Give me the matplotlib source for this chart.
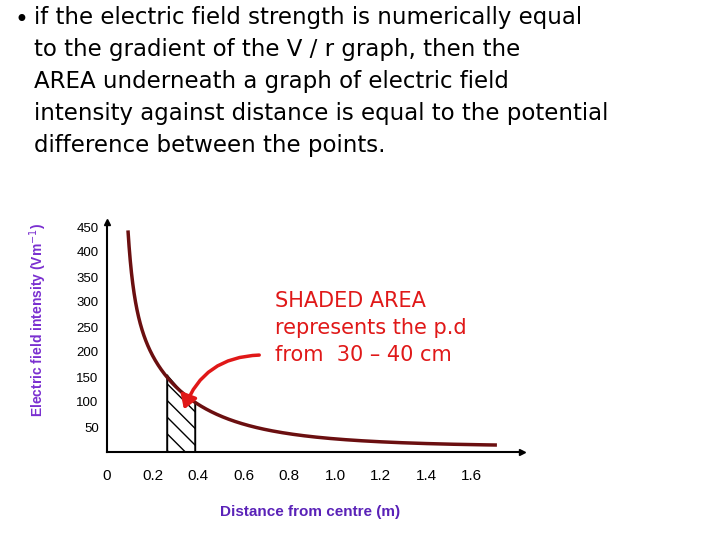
import matplotlib
matplotlib.use("Agg")
import matplotlib.pyplot as plt
import numpy as np

distance = [0.092, 0.105, 0.13, 0.144, 0.19, 0.263, 0.32, 0.386, 0.41, 0.55, 0.7, 0.85, 1.0, 1.14, 1.3, 1.43, 1.6, 1.71]
field = [450, 364, 284, 258, 204, 154, 124, 100, 90, 60, 45, 34, 27, 22, 18, 16, 15, 14]
shade_x = [0.263, 0.32, 0.386]
shade_y = [154, 124, 100]
xticks = [0, 0.2, 0.4, 0.6, 0.8, 1.0, 1.2, 1.4, 1.6]
xticklabels = ["0", "0.2", "0.4", "0.6", "0.8", "1.0", "1.2", "1.4", "1.6"]
yticks = [50, 100, 150, 200, 250, 300, 350, 400, 450]

W, H = 720, 540
fig = plt.figure(figsize=(7.2, 5.4), dpi=100)
left, bottom, right, top = 107, 452, 522, 222
ax = fig.add_axes([left / W, 1 - bottom / H, (right - left) / W, (bottom - top) / H])
ax.set_xlim(0, 1.82)
ax.set_ylim(0, 460)
for s in ["top", "right"]:
    ax.spines[s].set_visible(False)
ax.spines["left"].set_linewidth(1.5)
ax.spines["bottom"].set_linewidth(1.5)
ax.plot(1, 0, ">k", transform=ax.transAxes, clip_on=False, ms=5)
ax.plot(0, 1, "^k", transform=ax.transAxes, clip_on=False, ms=5)

ax.fill_between(shade_x, 0, shade_y, facecolor="white", edgecolor="black", hatch="\\\\", lw=1)
ax.plot([shade_x[0]] * 2, [0, shade_y[0]], color="black", lw=1)
ax.plot([shade_x[-1]] * 2, [0, shade_y[-1]], color="black", lw=1)

# smooth drawing through the read points (log-log interpolation for rendering only)
lx = np.log(distance)
ly = np.log(field)
xs = np.linspace(lx[0], lx[-1], 400)
c = np.polyfit(lx, ly, 4)
ys = np.polyval(c, xs)
ax.plot(np.exp(xs), np.exp(ys), color="#6b0f10", lw=2.5, solid_capstyle="butt")

ax.set_xticks(xticks)
ax.set_xticklabels(xticklabels, fontsize=11, family="Liberation Sans")
ax.set_yticks(yticks)
ax.set_yticklabels([str(v) for v in yticks], fontsize=9.5, family="Liberation Sans")
ax.tick_params(length=0)
ax.tick_params(axis="x", pad=12)
ax.tick_params(axis="y", pad=6)

fig.text(38 / W, 1 - 320 / H, "Electric field intensity (Vm$^{-1}$)", rotation=90, ha="center", va="center",
         fontsize=10, fontweight="bold", color="#7a2fd0", family="Liberation Sans")
fig.text(310 / W, 1 - 512 / H, "Distance from centre (m)", ha="center", va="center",
         fontsize=11, fontweight="bold", color="#5a22b8", family="Liberation Sans")

title = ("if the electric field strength is numerically equal\n"
         "to the gradient of the V / r graph, then the\n"
         "AREA underneath a graph of electric field\n"
         "intensity against distance is equal to the potential\n"
         "difference between the points.")
fig.text(14 / W, 1 - 20 / H, "•", fontsize=17, va="center", ha="left")
fig.text(34 / W, 1 - 6 / H, title, fontsize=16.5, va="top", ha="left", linespacing=1.5,
         family="DejaVu Sans")

red = "#e01818"
fig.text(275 / W, 1 - 291 / H, "SHADED AREA\nrepresents the p.d\nfrom  30 – 40 cm", fontsize=15,
         color=red, va="top", ha="left", linespacing=1.45, family="DejaVu Sans")
fig.add_artist(matplotlib.patches.FancyArrowPatch((262 / W, 1 - 355 / H), (183 / W, 1 - 412 / H),
               transform=fig.transFigure, connectionstyle="arc3,rad=0.35", arrowstyle="-|>,head_length=8,head_width=5",
               color=red, lw=2.5))

fig.savefig("out.png", dpi=100)
